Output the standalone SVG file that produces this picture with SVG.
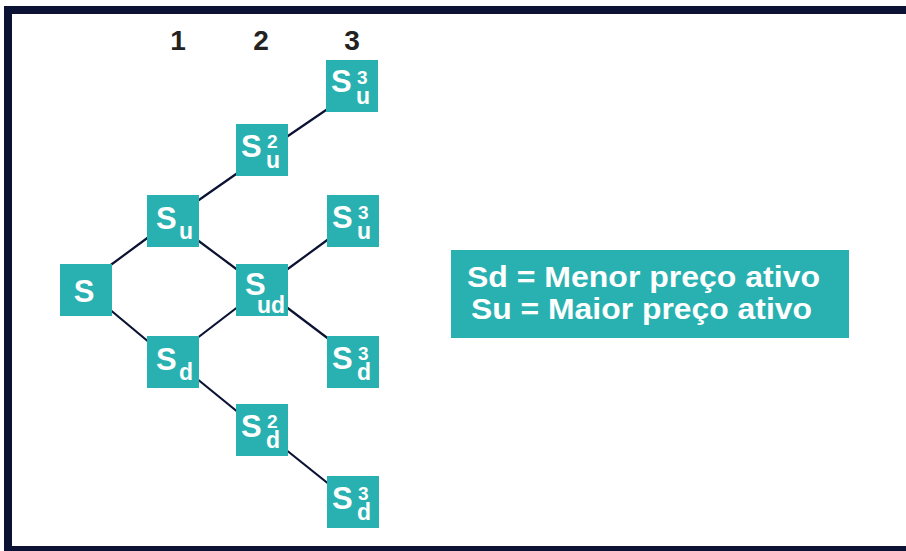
<svg xmlns="http://www.w3.org/2000/svg" width="906" height="551" viewBox="0 0 906 551">
<style>
.bx{fill:#28b1b0}
.ln{stroke:#0b1233;stroke-width:2.2;fill:none}
.fr{fill:#0b1233}
text{font-family:"Liberation Sans",Arial,sans-serif;font-weight:bold}
.w{fill:#ffffff}
.big{font-size:31px}
.sub{font-size:23px}
.sup{font-size:19px}
.hd{font-size:28px;fill:#222222;text-anchor:middle}
.lg{font-size:30px;fill:#ffffff}
</style>
<rect x="0" y="0" width="906" height="551" fill="#ffffff"/>
<g id="frame">
<rect class="fr" x="4" y="6" width="902" height="8"/>
<rect class="fr" x="4" y="6" width="8" height="545"/>
<rect class="fr" x="4" y="546" width="902" height="5"/>
</g>
<g id="headers">
<text class="hd" x="178" y="50">1</text>
<text class="hd" x="261" y="50">2</text>
<text class="hd" x="352" y="50">3</text>
</g>
<g id="connectors">
<line class="ln" x1="108" y1="267" x2="150" y2="236"/>
<line class="ln" x1="108" y1="308" x2="150" y2="343"/>
<line class="ln" x1="196" y1="202" x2="239" y2="172"/>
<line class="ln" x1="196" y1="239" x2="239" y2="271"/>
<line class="ln" x1="196" y1="339" x2="239" y2="306"/>
<line class="ln" x1="196" y1="378" x2="239" y2="413"/>
<line class="ln" x1="285" y1="138" x2="329" y2="108"/>
<line class="ln" x1="285" y1="271" x2="330" y2="238"/>
<line class="ln" x1="285" y1="306" x2="330" y2="340"/>
<line class="ln" x1="285" y1="449" x2="330" y2="485"/>
</g>
<g id="n-s">
<rect class="bx" x="60" y="264" width="52" height="52"/>
<text class="w big" x="84" y="302" text-anchor="middle">S</text>
</g>
<g id="n-su">
<rect class="bx" x="147" y="195" width="52" height="52"/>
<text class="w big" x="156" y="229">S</text>
<text class="w sub" x="179" y="239">u</text>
</g>
<g id="n-sd">
<rect class="bx" x="147" y="336" width="52" height="52"/>
<text class="w big" x="156" y="370">S</text>
<text class="w sub" x="179" y="380">d</text>
</g>
<g id="n-su2">
<rect class="bx" x="236" y="124" width="52" height="52"/>
<text class="w big" x="241" y="157">S</text>
<text class="w sup" x="267" y="148">2</text>
<text class="w sub" x="266" y="168">u</text>
</g>
<g id="n-sud">
<rect class="bx" x="236" y="264" width="52" height="52"/>
<text class="w big" x="245" y="295">S</text>
<text class="w sub" x="257" y="313">ud</text>
</g>
<g id="n-sd2">
<rect class="bx" x="236" y="404" width="52" height="52"/>
<text class="w big" x="241" y="437">S</text>
<text class="w sup" x="267" y="428">2</text>
<text class="w sub" x="266" y="448">d</text>
</g>
<g id="n-su3-top">
<rect class="bx" x="326" y="60" width="52" height="52"/>
<text class="w big" x="331" y="92">S</text>
<text class="w sup" x="357" y="84">3</text>
<text class="w sub" x="356" y="104">u</text>
</g>
<g id="n-su3-mid">
<rect class="bx" x="327" y="195" width="52" height="52"/>
<text class="w big" x="332" y="228">S</text>
<text class="w sup" x="358" y="219">3</text>
<text class="w sub" x="357" y="239">u</text>
</g>
<g id="n-sd3-mid">
<rect class="bx" x="327" y="336" width="52" height="52"/>
<text class="w big" x="332" y="369">S</text>
<text class="w sup" x="358" y="360">3</text>
<text class="w sub" x="357" y="380">d</text>
</g>
<g id="n-sd3-bot">
<rect class="bx" x="327" y="476" width="52" height="52"/>
<text class="w big" x="332" y="509">S</text>
<text class="w sup" x="358" y="500">3</text>
<text class="w sub" x="357" y="520">d</text>
</g>
<g id="legend">
<rect class="bx" x="451" y="250" width="398" height="88"/>
<text class="lg" x="467" y="287" textLength="353" lengthAdjust="spacingAndGlyphs">Sd = Menor preço ativo</text>
<text class="lg" x="471" y="319" textLength="341" lengthAdjust="spacingAndGlyphs">Su = Maior preço ativo</text>
</g>
</svg>
